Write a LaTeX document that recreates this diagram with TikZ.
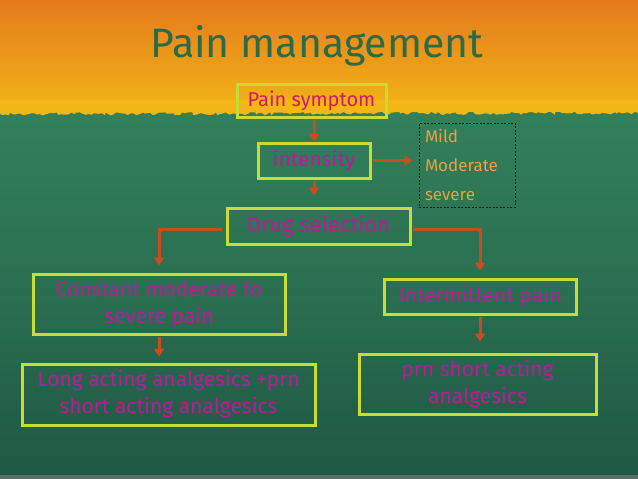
\documentclass[tikz,border=0pt]{standalone}
\usepackage{fontspec}
\newfontfamily\boxfont{Fira Sans}
\newfontfamily\titlefont{Fira Sans}
\usetikzlibrary{arrows.meta,decorations.pathmorphing,calc}
\definecolor{bordercol}{HTML}{C8DC34}
\definecolor{arrowcol}{HTML}{CC4A1C}
\definecolor{magtext}{HTML}{BE189C}
\definecolor{redtext}{HTML}{D21A6E}
\definecolor{orgtext}{HTML}{E8A040}
\definecolor{titlecol}{HTML}{2B6B47}
\definecolor{orangetop}{HTML}{E47A1C}
\definecolor{yellowbot}{HTML}{F2B616}
\definecolor{greentop}{HTML}{32805A}
\definecolor{greenmid}{HTML}{2A6E50}
\definecolor{greenbot}{HTML}{1F5844}
\tikzset{
  box/.style={draw=bordercol, line width=3pt, inner sep=0pt, align=center,
    font=\boxfont\fontsize{21}{27}\selectfont, text=magtext},
  levels/.style={draw=black!90, line width=0.8pt, dash pattern=on 2pt off 1.5pt,
    inner sep=0pt, align=left, font=\boxfont\fontsize{17}{29}\selectfont, text=orgtext},
  conn/.style={draw=arrowcol, line width=3pt, -{Triangle[width=10pt,length=8pt]}}
}
\begin{document}
\begin{tikzpicture}[x=1pt,y=-1pt]
\useasboundingbox (0,0) rectangle (638,479);
% background
\shade[top color=orangetop, bottom color=yellowbot] (0,0) rectangle (638,112);
\shade[top color=greentop, bottom color=greenbot, middle color=greenmid] (0,112) rectangle (638,475);
\fill[yellowbot] (0,100) -- (638,100) -- (638,113)
  decorate[decoration={random steps, segment length=3pt, amplitude=1.6pt}] { -- (0,114) } -- cycle;
\fill[color=gray!60!greenbot] (0,475) rectangle (638,479);
% title
\node[font=\titlefont\fontsize{41}{48}\selectfont, text=titlecol] (title) at (317,46) {Pain management};
% nodes
\node[box, minimum width=149pt, minimum height=33pt, text=redtext, font=\boxfont\fontsize{20}{26}\selectfont] (ps) at (311.5,100.5) {Pain symptom};
\node[box, minimum width=112pt, minimum height=35pt] (int) at (314,160.5) {intensity};
\node[levels, minimum width=96pt, minimum height=84pt, text width=84pt] (lvl) at (467,165) {Mild\\Moderate\\severe};
\node[box, minimum width=183pt, minimum height=36pt, font=\boxfont\fontsize{22}{26}\selectfont] (drug) at (318.5,226) {Drug selection};
\node[box, minimum width=252pt, minimum height=60pt] (cons) at (159,304) {Constant moderate to\\severe pain};
\node[box, minimum width=192pt, minimum height=35pt] (inter) at (480,296.5) {Intermittent pain};
\node[box, minimum width=293pt, minimum height=61pt] (long) at (168.5,394.5) {Long acting analgesics +prn\\short acting analgesics};
\node[box, minimum width=237pt, minimum height=60pt] (prn) at (477.5,384) {prn short acting\\analgesics};
% connectors
\draw[conn, shorten <=1.5pt] (int.north |- ps.south) -- (int.north);
\draw[conn, shorten <=1.5pt, shorten >=11pt] (int.south) -- (int.south |- drug.north);
\draw[conn, shorten <=1.5pt, shorten >=6pt] (int.east) -- (int.east -| lvl.west);
\draw[conn, shorten <=4pt, shorten >=7pt] (drug.west |- 0,229) -| (cons.north);
\draw[conn, shorten <=1.5pt, shorten >=7pt] (drug.east |- 0,229) -| (inter.north);
\draw[conn, shorten <=1.5pt, shorten >=6pt] (cons.south) -- (cons.south |- long.north);
\draw[conn, shorten <=1.5pt, shorten >=11pt] (inter.south) -- (inter.south |- prn.north);
\end{tikzpicture}
\end{document}
